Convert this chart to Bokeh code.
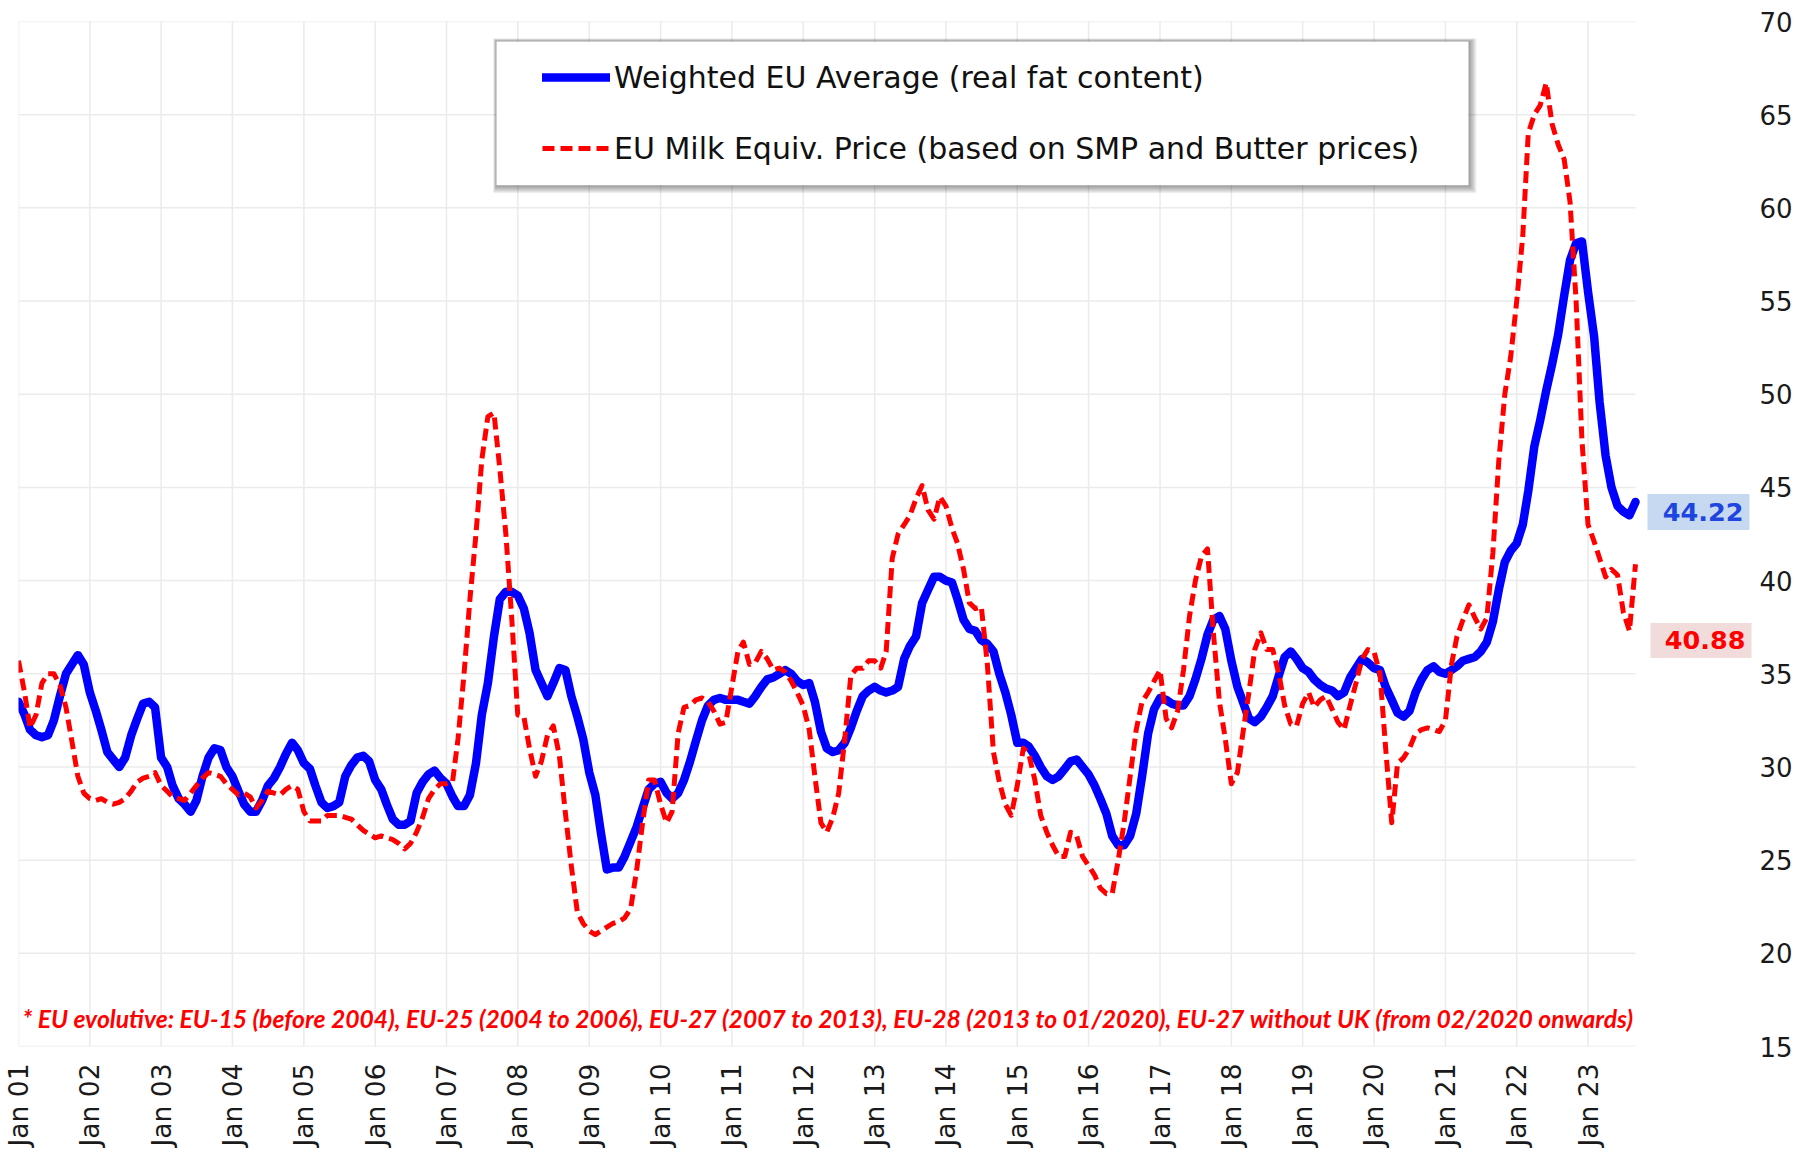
import math
import pandas as pd
from bokeh.plotting import figure
from bokeh.models import (FixedTicker, DatetimeTickFormatter, Legend, LegendItem,
                          Label, BoxAnnotation, Range1d)
from bokeh.embed import file_html
from bokeh.resources import INLINE

# ---------------- data (monthly, from Jan 2001) ----------------
start_month = "2001-01"

weighted_eu_avg = [
    33.5, 32.8, 32.0, 31.7, 31.6, 31.7, 32.5, 33.8, 35.0, 35.5, 36.0, 35.5,  # 2001
    34.0, 33.0, 32.0, 30.8, 30.4, 30.0, 30.5, 31.7, 32.6, 33.4, 33.5, 33.2,  # 2002
    30.5, 30.0, 29.0, 28.3, 28.0, 27.6, 28.2, 29.5, 30.5, 31.0, 30.9, 30.0,  # 2003
    29.5, 28.7, 28.0, 27.6, 27.6, 28.2, 29.0, 29.4, 30.0, 30.7, 31.3, 30.9,  # 2004
    30.2, 29.9, 29.0, 28.1, 27.8, 27.9, 28.1, 29.5, 30.1, 30.5, 30.6, 30.3,  # 2005
    29.3, 28.8, 28.0, 27.2, 26.9, 26.9, 27.1, 28.6, 29.2, 29.6, 29.8, 29.4,  # 2006
    29.1, 28.4, 27.9, 27.9, 28.5, 30.2, 32.8, 34.5, 37.0, 39.0, 39.4, 39.4,  # 2007
    39.2, 38.5, 37.2, 35.2, 34.5, 33.8, 34.5, 35.3, 35.2, 33.8, 32.7, 31.5,  # 2008
    29.7, 28.5, 26.5, 24.5, 24.6, 24.6, 25.2, 26.0, 26.8, 27.8, 28.8, 29.1,  # 2009
    29.2, 28.6, 28.3, 28.6, 29.3, 30.3, 31.4, 32.5, 33.3, 33.6, 33.7, 33.6,  # 2010
    33.6, 33.6, 33.5, 33.4, 33.8, 34.3, 34.7, 34.8, 35.0, 35.2, 35.0, 34.6,  # 2011
    34.4, 34.5, 33.5, 31.9, 31.0, 30.8, 30.9, 31.3, 32.1, 33.0, 33.8, 34.1,  # 2012
    34.3, 34.1, 34.0, 34.1, 34.3, 35.8, 36.5, 37.0, 38.8, 39.5, 40.2, 40.2,  # 2013
    40.0, 39.9, 39.0, 37.9, 37.4, 37.3, 36.8, 36.6, 36.2, 35.0, 34.0, 32.8,  # 2014
    31.3, 31.3, 31.1, 30.6, 30.0, 29.5, 29.3, 29.5, 29.9, 30.3, 30.4, 30.0,  # 2015
    29.6, 29.0, 28.3, 27.5, 26.3, 25.8, 25.8, 26.3, 27.5, 29.5, 31.8, 33.1,  # 2016
    33.7, 33.6, 33.4, 33.3, 33.3, 33.8, 34.7, 35.8, 37.1, 37.9, 38.1, 37.4,  # 2017
    35.7, 34.3, 33.5, 32.6, 32.4, 32.7, 33.2, 33.8, 34.9, 35.9, 36.2, 35.8,  # 2018
    35.3, 35.1, 34.7, 34.4, 34.2, 34.1, 33.8, 34.0, 34.8, 35.3, 35.8, 35.6,  # 2019
    35.3, 35.2, 34.3, 33.6, 32.9, 32.7, 33.0, 34.0, 34.7, 35.2, 35.4, 35.1,  # 2020
    35.0, 35.2, 35.4, 35.7, 35.8, 35.9, 36.2, 36.7, 37.8, 39.5, 41.0, 41.6,  # 2021
    42.0, 43.0, 44.8, 47.2, 48.6, 50.2, 51.6, 53.2, 55.3, 57.2, 58.1, 58.2,  # 2022
    55.5, 53.1, 49.6, 46.7, 45.0, 44.0, 43.7, 43.5, 44.22,                   # 2023
]

milk_equiv_price = [
    35.7, 34.0, 32.1, 32.8, 34.5, 35.0, 35.0, 34.4, 33.2, 31.4, 29.5, 28.6,  # 2001
    28.3, 28.2, 28.3, 28.1, 28.0, 28.1, 28.3, 28.7, 29.2, 29.4, 29.5, 29.7,  # 2002
    29.0, 28.7, 28.4, 28.3, 28.2, 28.6, 29.0, 29.4, 29.7, 29.6, 29.5, 29.1,  # 2003
    28.8, 28.5, 28.6, 28.4, 27.8, 28.2, 28.7, 28.6, 28.5, 28.8, 29.0, 28.8,  # 2004
    27.6, 27.1, 27.1, 27.1, 27.4, 27.4, 27.4, 27.3, 27.2, 26.9, 26.6, 26.4,  # 2005
    26.2, 26.3, 26.2, 26.1, 25.9, 25.6, 25.9, 26.5, 27.3, 28.3, 28.8, 29.1,  # 2006
    29.1, 29.2, 31.5, 35.0, 39.0, 42.5, 46.5, 48.8, 49.0, 46.0, 42.5, 38.0,  # 2007
    32.8, 32.7, 31.0, 29.5, 30.3, 31.7, 32.2, 30.6, 27.5, 24.7, 22.2, 21.6,  # 2008
    21.2, 21.0, 21.2, 21.4, 21.6, 21.7, 21.9, 22.4, 24.5, 27.0, 29.3, 29.3,  # 2009
    28.0, 27.0, 27.6, 31.8, 33.2, 33.3, 33.6, 33.7, 33.5, 33.0, 32.3, 32.4,  # 2010
    34.3, 36.2, 36.7, 35.5, 35.6, 36.2, 35.8, 35.2, 35.3, 35.1, 34.6, 34.0,  # 2011
    33.3, 32.0, 29.5, 27.0, 26.5, 27.3, 28.6, 31.5, 34.9, 35.3, 35.3, 35.7,  # 2012
    35.7, 35.3, 36.2, 41.2, 42.5, 43.0, 43.5, 44.4, 45.1, 43.8, 43.3, 44.5,  # 2013
    44.0, 42.8, 42.0, 40.6, 38.8, 38.5, 38.6, 35.5, 30.8, 29.2, 28.0, 27.4,  # 2014
    29.0, 31.0, 30.7, 29.3, 27.4, 26.5, 25.8, 25.2, 25.2, 26.5, 26.3, 25.2,  # 2015
    24.7, 24.2, 23.5, 23.2, 23.2, 25.0, 27.0, 29.5, 32.0, 33.5, 34.0, 34.6,  # 2016
    35.2, 32.6, 32.1, 33.0, 35.2, 38.1, 40.0, 41.3, 41.7, 37.2, 33.5, 31.5,  # 2017
    29.1, 29.7, 31.8, 34.0, 36.3, 37.2, 36.3, 36.3, 35.0, 33.3, 32.3, 32.2,  # 2018
    33.4, 34.0, 33.2, 33.6, 33.8, 33.1, 32.4, 32.0, 33.3, 34.5, 35.8, 36.3,  # 2019
    36.2, 35.0, 31.0, 27.0, 30.2, 30.5, 31.0, 31.8, 32.0, 32.1, 32.0, 31.9,  # 2020
    32.5, 35.5, 37.0, 37.9, 38.7, 38.0, 37.4, 38.0, 41.5, 46.4, 50.0, 52.0,  # 2021
    55.0, 58.5, 64.0, 65.0, 65.5, 66.7, 64.5, 63.4, 62.6, 60.3, 55.0, 47.5,  # 2022
    43.0, 42.1, 41.2, 40.2, 40.6, 40.3, 38.3, 37.3, 40.88,                   # 2023
]

series_labels = ["Weighted EU Average (real fat content)",
                 "EU Milk Equiv. Price (based on SMP and Butter prices)"]
tick_years = list(range(2001, 2024))
y_ticks = [15, 20, 25, 30, 35, 40, 45, 50, 55, 60, 65, 70]
footnote = ("* EU evolutive: EU-15 (before 2004), EU-25 (2004 to 2006), "
            "EU-27 (2007 to 2013), EU-28 (2013 to 01/2020), "
            "EU-27 without UK (from 02/2020 onwards)")

# ---------------- layout ----------------
W, H = 1800, 1149
BL, BR, BT, BB = 18, 44, 21, 102
FW, FH = W - BL - BR, H - BT - BB
DATA_W = 1617                      # pixel width covered by the data span

dates = pd.date_range(start_month, periods=len(weighted_eu_avg), freq="MS")
x0 = dates[0].value / 1e6
x1 = dates[-1].value / 1e6
x_end = x0 + (x1 - x0) * FW / DATA_W
Y0, Y1 = y_ticks[0], y_ticks[-1]

def fx(px):  # frame-relative pixel -> data x (ms)
    return x0 + px / DATA_W * (x1 - x0)

def fy(py_top):  # pixel from frame top -> data y
    return Y1 - py_top / FH * (Y1 - Y0)

p = figure(width=W, height=H, x_axis_type="datetime", y_axis_location="right",
           output_backend="svg", toolbar_location=None,
           x_range=Range1d(x0, x_end), y_range=Range1d(Y0, Y1),
           min_border_left=BL, min_border_right=BR,
           min_border_top=BT, min_border_bottom=BB)
p.outline_line_color = None
p.background_fill_color = "white"
p.grid.visible = False

# grid lines (only over the data span)
xticks = [pd.Timestamp(f"{y}-01-01").value / 1e6 for y in tick_years]
grid_col = "#ebebeb"
p.segment(x0=[x0] * len(y_ticks), x1=[x1] * len(y_ticks), y0=y_ticks, y1=y_ticks,
          line_color=grid_col, line_width=1.5)
p.segment(x0=xticks, x1=xticks, y0=[Y0] * len(xticks), y1=[Y1] * len(xticks),
          line_color=grid_col, line_width=1.5)

# x axis
p.xaxis.ticker = FixedTicker(ticks=xticks)
p.xaxis.formatter = DatetimeTickFormatter(years="Jan %y", months="Jan %y",
                                          days="Jan %y", hours="Jan %y")
p.xaxis.major_label_orientation = math.pi / 2
p.xaxis.major_label_standoff = 17
p.xaxis.major_label_text_font = "DejaVu Sans"
p.xaxis.major_label_text_font_size = "26.5px"
p.xaxis.major_label_text_color = "#1a1a1a"

# y axis
p.yaxis.ticker = FixedTicker(ticks=y_ticks)
p.yaxis.major_label_standoff = 3
p.yaxis.major_label_text_font = "DejaVu Sans"
p.yaxis.major_label_text_font_size = "26px"
p.yaxis.major_label_text_color = "#1a1a1a"

for ax in (p.xaxis, p.yaxis):
    ax.axis_line_color = None
    ax.major_tick_line_color = None
    ax.minor_tick_line_color = None
    ax.major_tick_out = 0
    ax.major_tick_in = 0
    ax.minor_tick_out = 0

# lines
r_blue = p.line(dates, weighted_eu_avg, line_color="#0000ff", line_width=8.5,
                line_join="round", line_cap="round")
r_red = p.line(dates, milk_equiv_price, line_color="#ff0000", line_width=5,
               line_dash="12 6", line_join="round")

# legend box with soft shadow
LL, LR, LT, LB = 478, 1450, 20, 164
for k in range(1, 9):
    p.add_layout(BoxAnnotation(left=fx(LL - k * 0.4), right=fx(LR + k),
                               top=fy(LT - k * 0.4), bottom=fy(LB + k),
                               fill_color="black", fill_alpha=0.055,
                               line_color=None))
p.add_layout(BoxAnnotation(left=fx(LL), right=fx(LR), top=fy(LT), bottom=fy(LB),
                           fill_color="white", fill_alpha=1.0, line_color=None))

legend = Legend(items=[LegendItem(label=series_labels[0], renderers=[r_blue]),
                       LegendItem(label=series_labels[1], renderers=[r_red])],
                location=(524, FH - 148), padding=0, spacing=31,
                glyph_height=40, glyph_width=68, label_height=40,
                label_standoff=4, label_text_font="DejaVu Sans",
                label_text_font_size="30px", label_text_color="#111111",
                background_fill_alpha=0, border_line_color=None)
p.add_layout(legend)

# end-value labels (box + text)
def value_tag(left, right, top, bottom, text, color, bg):
    p.add_layout(BoxAnnotation(left=fx(left), right=fx(right), top=fy(top),
                               bottom=fy(bottom), fill_color=bg, fill_alpha=1.0,
                               line_color=None))
    p.add_layout(Label(x=right - 6, y=FH - (top + bottom) / 2,
                       x_units="screen", y_units="screen", text=text,
                       text_align="right", text_baseline="middle",
                       text_font="DejaVu Sans", text_font_style="bold",
                       text_font_size="25.5px", text_color=color))

value_tag(1629, 1731, 473, 509, f"{weighted_eu_avg[-1]:.2f}", "#1f45e0", "#c6d9f1")
value_tag(1632, 1733, 602, 637, f"{milk_equiv_price[-1]:.2f}", "#ff0000", "#f2dcdb")

# footnote
p.add_layout(Label(x=4, y=28, x_units="screen", y_units="screen", text=footnote,
                   text_baseline="middle", text_font="Lato",
                   text_font_style="bold italic", text_font_size="24.7px",
                   text_color="#ff0000"))

open("out.html", "w").write(file_html(p, INLINE))
